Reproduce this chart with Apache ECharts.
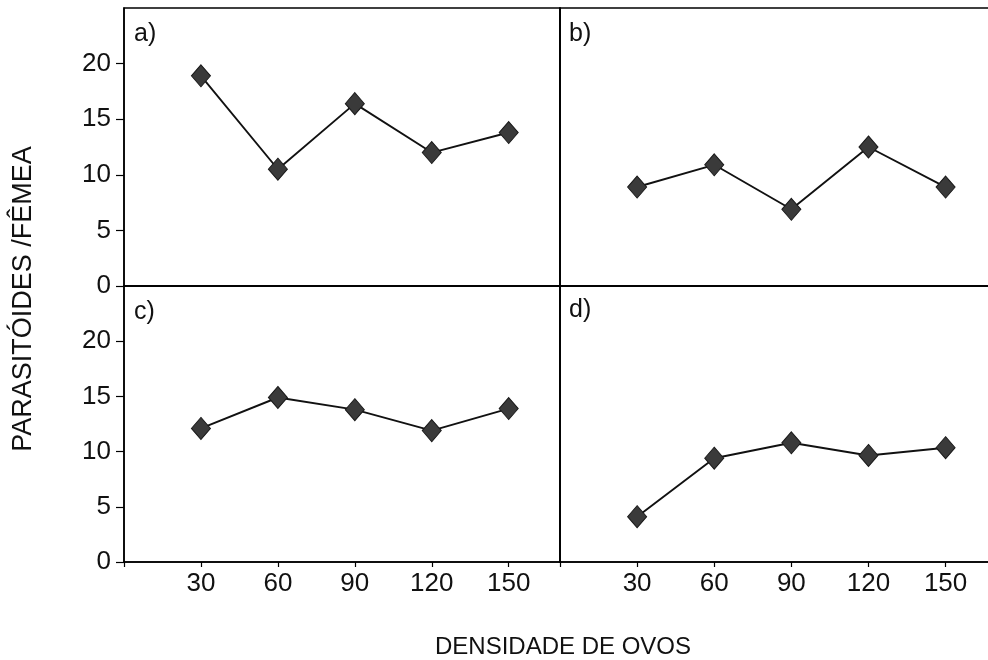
<!DOCTYPE html>
<html>
<head>
<meta charset="utf-8">
<script src="https://cdn.jsdelivr.net/npm/echarts@6/dist/echarts.min.js"></script>
<style>html,body{margin:0;padding:0;background:#fff}#c{width:988px;height:660px}</style>
</head>
<body>
<div id="c"></div>
<script>
const densities = [30, 60, 90, 120, 150];
const xTickLabels = [30, 60, 90, 120, 150];
const yTickLabels = [0, 5, 10, 15, 20];
const panelLetters = ['a)', 'b)', 'c)', 'd)'];
const seriesA = [18.9, 10.5, 16.4, 12.0, 13.8];
const seriesB = [8.9, 10.9, 6.9, 12.5, 8.9];
const seriesC = [12.1, 14.9, 13.8, 11.9, 13.9];
const seriesD = [4.1, 9.4, 10.8, 9.65, 10.35];
const yTitle = 'PARASITÓIDES /FÊMEA';
const xTitle = 'DENSIDADE DE OVOS';

const FONT = '"Liberation Sans", Arial, sans-serif';
const allSeries = [seriesA, seriesB, seriesC, seriesD];

const grids = [
  {left: 124, top: 8, width: 436, height: 278},
  {left: 560, top: 8, width: 437, height: 278},
  {left: 124, top: 286, width: 436, height: 276},
  {left: 560, top: 286, width: 437, height: 276}
].map(g => Object.assign(g, {show: true, borderColor: '#000', borderWidth: 1.5, backgroundColor: 'transparent', containLabel: false, outerBoundsMode: 'none'}));

const xAxes = grids.map((g, i) => ({
  type: 'value', gridIndex: i, min: 0, max: 170, interval: 30,
  splitLine: {show: false},
  axisLine: {show: true, lineStyle: {color: '#000', width: 1.5}},
  axisTick: {show: i >= 2, length: 5, customValues: [0].concat(xTickLabels), lineStyle: {color: '#000', width: 1.2}},
  axisLabel: {show: i >= 2, customValues: xTickLabels, margin: 9, fontSize: 26, color: '#111', fontFamily: FONT}
}));

const yAxes = grids.map((g, i) => ({
  type: 'value', gridIndex: i, min: 0, max: 25, interval: 5,
  splitLine: {show: false},
  axisLine: {show: true, lineStyle: {color: '#000', width: 1.5}},
  axisTick: {show: i % 2 === 0, length: 8, customValues: yTickLabels, lineStyle: {color: '#000', width: 1.2}},
  axisLabel: {show: i % 2 === 0, customValues: yTickLabels, margin: 13, fontSize: 26, color: '#111', fontFamily: FONT}
}));

const series = allSeries.map((vals, i) => ({
  type: 'line', xAxisIndex: i, yAxisIndex: i,
  data: densities.map((d, k) => [d, vals[k]]),
  symbol: 'diamond', symbolSize: [19, 22],
  lineStyle: {color: '#111', width: 1.9},
  itemStyle: {color: '#3a3a3a', borderColor: '#1a1a1a', borderWidth: 1},
  animation: false
}));

const letterPos = [[134, 34], [569, 34], [134, 312], [569, 310]];
const graphic = panelLetters.map((t, i) => ({
  type: 'text', x: letterPos[i][0], y: letterPos[i][1],
  style: {text: t, font: '25px ' + FONT, fill: '#111', textAlign: 'left', textVerticalAlign: 'middle'}
}));
graphic.push({
  type: 'text', x: 24, y: 299, rotation: Math.PI / 2,
  style: {text: yTitle, font: '27px ' + FONT, fill: '#111', textAlign: 'center', textVerticalAlign: 'middle'}
});
graphic.push({
  type: 'text', x: 563, y: 647,
  style: {text: xTitle, font: '24px ' + FONT, fill: '#111', textAlign: 'center', textVerticalAlign: 'middle'}
});

const chart = echarts.init(document.getElementById('c'), null, {renderer: 'canvas'});
chart.setOption({
  animation: false,
  backgroundColor: '#fff',
  grid: grids, xAxis: xAxes, yAxis: yAxes, series: series, graphic: graphic
});
</script>
</body>
</html>
